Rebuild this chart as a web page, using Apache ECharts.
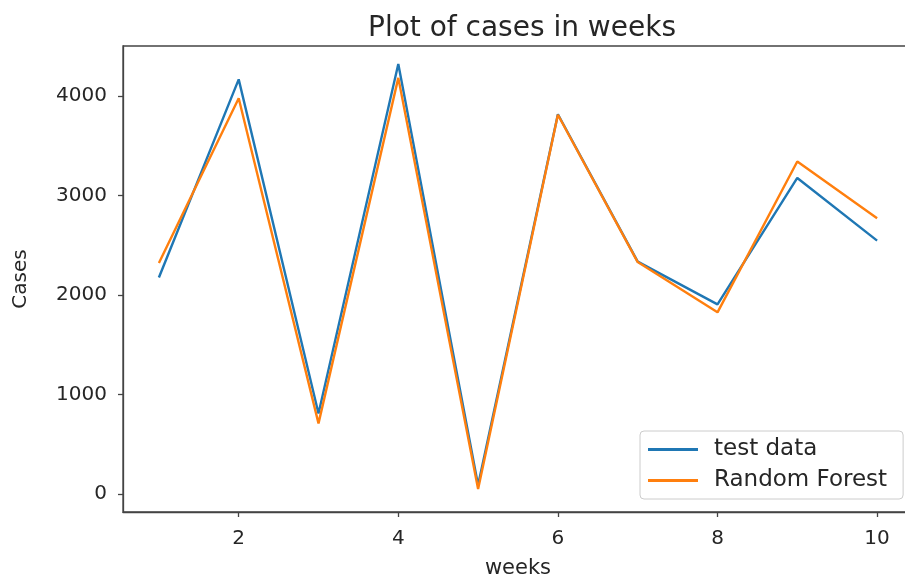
<!DOCTYPE html>
<html>
<head>
<meta charset="utf-8">
<script src="https://cdn.jsdelivr.net/npm/echarts@6/dist/echarts.min.js"></script>
<style>html,body{margin:0;padding:0;background:#fff}#c{width:905px;height:579px}</style>
</head>
<body>
<div id="c"></div>
<script>
const weeks = [1, 2, 3, 4, 5, 6, 7, 8, 9, 10];
const testData = [2175, 4165, 810, 4320, 90, 3815, 2335, 1905, 3175, 2545];
const randomForest = [2320, 3975, 710, 4180, 50, 3810, 2330, 1825, 3340, 2770];
const xTicks = [2, 4, 6, 8, 10];
const yTicks = [0, 1000, 2000, 3000, 4000];

const chart = echarts.init(document.getElementById('c'));
const font = 'DejaVu Sans';
const axisCol = '#444';
const textCol = '#262626';
chart.setOption({
  animation: false,
  backgroundColor: '#fff',
  title: {
    text: 'Plot of cases in weeks',
    left: 517, top: 10, textAlign: 'center',
    textStyle: {fontFamily: font, fontSize: 28, fontWeight: 'normal', color: textCol}
  },
  grid: {left: 123, top: 46, width: 790, height: 466, outerBoundsMode: 'none', containLabel: false,
         show: true, borderColor: axisCol, borderWidth: 1.3, backgroundColor: '#fff'},
  legend: {
    orient: 'vertical', left: 640, top: 431,
    backgroundColor: '#fff', borderColor: '#ccc', borderWidth: 1, borderRadius: 4,
    padding: [7, 16, 7, 8], itemGap: 8,
    icon: 'rect', itemWidth: 50, itemHeight: 3,
    textStyle: {fontFamily: font, fontSize: 23, color: textCol, padding: [0, 0, 0, 11]},
    data: ['test data', 'Random Forest']
  },
  xAxis: {
    type: 'value', min: 0.55, max: 10.45,
    name: 'weeks', nameLocation: 'middle', nameGap: 46,
    nameTextStyle: {fontFamily: font, fontSize: 21, color: textCol},
    axisLine: {show: true, onZero: false, lineStyle: {color: axisCol, width: 1.3}},
    axisTick: {show: true, length: 5, customValues: xTicks, lineStyle: {color: axisCol, width: 1.3}},
    axisLabel: {customValues: xTicks, fontFamily: font, fontSize: 20, color: textCol, margin: 17},
    splitLine: {show: false}
  },
  yAxis: {
    type: 'value', min: -180, max: 4500,
    name: 'Cases', nameLocation: 'middle', nameGap: 92, nameRotate: 90,
    nameTextStyle: {fontFamily: font, fontSize: 20, color: textCol},
    axisLine: {show: true, lineStyle: {color: axisCol, width: 1.3}},
    axisTick: {show: true, length: 5, customValues: yTicks, lineStyle: {color: axisCol, width: 1.3}},
    axisLabel: {customValues: yTicks, formatter: v => String(v), fontFamily: font, fontSize: 20, color: textCol, margin: 16},
    splitLine: {show: false}
  },
  series: [
    {name: 'test data', type: 'line', data: weeks.map((w, i) => [w, testData[i]]),
     showSymbol: false, symbol: 'none', color: '#1f77b4', lineStyle: {width: 2.4, color: '#1f77b4'}, z: 2},
    {name: 'Random Forest', type: 'line', data: weeks.map((w, i) => [w, randomForest[i]]),
     showSymbol: false, symbol: 'none', color: '#ff7f0e', lineStyle: {width: 2.4, color: '#ff7f0e'}, z: 3}
  ]
});
</script>
</body>
</html>
